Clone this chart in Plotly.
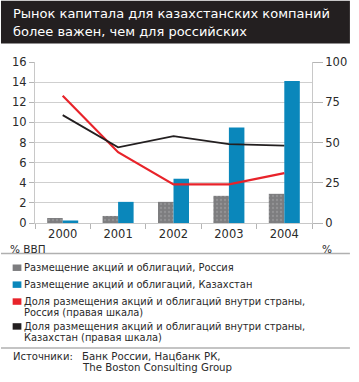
import plotly.graph_objects as go

years = ["2000", "2001", "2002", "2003", "2004"]
russia_placement = [0.5, 0.7, 2.1, 2.7, 2.9]
kazakh_placement = [0.25, 2.1, 4.4, 9.5, 14.1]
russia_domestic_share = [79, 44, 24, 24, 31]
kazakh_domestic_share = [67, 47, 54, 49, 48]

left_ticks = [0, 2, 4, 6, 8, 10, 12, 14, 16]
right_ticks = [0, 25, 50, 75, 100]

title_lines = ["Рынок капитала для казахстанских компаний", "более важен, чем для российских"]
legend_labels = [
    ["Размещение акций и облигаций, Россия"],
    ["Размещение акций и облигаций, Казахстан"],
    ["Доля размещения акций и облигаций внутри страны,", "Россия (правая шкала)"],
    ["Доля размещения акций и облигаций внутри страны,", "Казахстан (правая шкала)"],
]
source_label = "Источники:"
source_lines = ["Банк России, Нацбанк РК,", "The Boston Consulting Group"]

GRAY = "#7d7d7f"
BLUE = "#0a87bb"
RED = "#e8232a"
BLACK = "#231f20"
FONT = "DejaVu Sans"
TXT = "#2a2a2a"

fig = go.Figure()
fig.add_trace(go.Bar(
    x=years, y=russia_placement, name=" ".join(legend_labels[0]),
    marker=dict(color=GRAY, line=dict(width=0),
                pattern=dict(shape=".", fgcolor="#a8a8aa", bgcolor=GRAY, size=4, solidity=0.25)),
))
fig.add_trace(go.Bar(
    x=years, y=kazakh_placement, name=" ".join(legend_labels[1]),
    marker=dict(color=BLUE, line=dict(width=0)),
))
fig.add_trace(go.Scatter(
    x=years, y=russia_domestic_share, name=" ".join(legend_labels[2]), yaxis="y2",
    mode="lines", line=dict(color=RED, width=2.2),
))
fig.add_trace(go.Scatter(
    x=years, y=kazakh_domestic_share, name=" ".join(legend_labels[3]), yaxis="y2",
    mode="lines", line=dict(color=BLACK, width=1.8),
))

W, H = 359, 382
L, R, T, B = 35, 39, 61.5, 158.7

fig.update_layout(
    width=W, height=H,
    margin=dict(l=L, r=R, t=T, b=B, pad=0),
    paper_bgcolor="white", plot_bgcolor="white",
    showlegend=False,
    barmode="group", bargap=0.44, bargroupgap=0,
    font=dict(family=FONT, size=11, color=TXT),
    xaxis=dict(
        type="category", showgrid=False, ticks="outside", tickson="boundaries",
        ticklen=5, tickcolor="#b5b5b5", showline=True, linecolor="#c8c8c8", linewidth=1,
        tickfont=dict(size=11.5, color=TXT), zeroline=False,
    ),
    yaxis=dict(
        range=[0, 16], tickvals=left_ticks, showgrid=True, gridcolor="#cfcfcf", gridwidth=1,
        ticks="outside", ticklen=5, tickcolor="#b5b5b5", showline=True, linecolor="#c8c8c8",
        zeroline=False, tickfont=dict(size=11.5, color=TXT),
    ),
    yaxis2=dict(
        range=[0, 100], tickvals=right_ticks, overlaying="y", side="right", showgrid=False,
        ticks="outside", ticklen=10, tickcolor="#b5b5b5", showline=True, linecolor="#c8c8c8",
        zeroline=False, tickfont=dict(size=11.5, color=TXT),
    ),
)

shapes = []
annotations = []


def px_x(x):
    return (x - L) / (W - L - R)


def px_y(y):
    return 1 - (y - T) / (H - T - B)


def text_at(txt, x, y, size, color=TXT, anchor="left"):
    annotations.append(dict(text=txt, xref="paper", yref="paper", x=px_x(x), y=px_y(y),
                            xanchor=anchor, yanchor="middle", showarrow=False, borderpad=0,
                            font=dict(family=FONT, size=size, color=color)))


# title bar
shapes.append(dict(type="rect", xref="paper", yref="paper", x0=px_x(0), x1=px_x(W),
                   y0=px_y(43), y1=px_y(0), fillcolor="#231f20", line=dict(width=0), layer="below"))
for i, line in enumerate(title_lines):
    text_at(line, 11, 12.5 + i * 18.5, 13, color="white")

text_at("% ВВП", 8, 249, 10.5)
text_at("%", 329, 249, 10.5)

# separators
for ysep in [254, 349]:
    shapes.append(dict(type="line", xref="paper", yref="paper", x0=px_x(0), x1=px_x(W),
                       y0=px_y(ysep), y1=px_y(ysep), line=dict(color="#b0b0b0", width=1.5)))

# legend
leg_colors = [GRAY, BLUE, RED, BLACK]
leg_y = [268, 285, 302, 327]
for c, yy, lab in zip(leg_colors, leg_y, legend_labels):
    shapes.append(dict(type="rect", xref="paper", yref="paper", x0=px_x(12), x1=px_x(21),
                       y0=px_y(yy + 3.5), y1=px_y(yy - 3), fillcolor=c, line=dict(width=0)))
    for j, ln in enumerate(lab):
        text_at(ln, 23, yy + j * 11.6, 9.9)

text_at(source_label, 11, 357, 10)
for j, ln in enumerate(source_lines):
    text_at(ln, 82, 357 + j * 12, 10.2)

fig.update_layout(shapes=shapes, annotations=annotations)
fig.write_html("out.html", config={"displayModeBar": False},
               post_script="document.body.style.margin='0';document.body.style.overflow='hidden';")
